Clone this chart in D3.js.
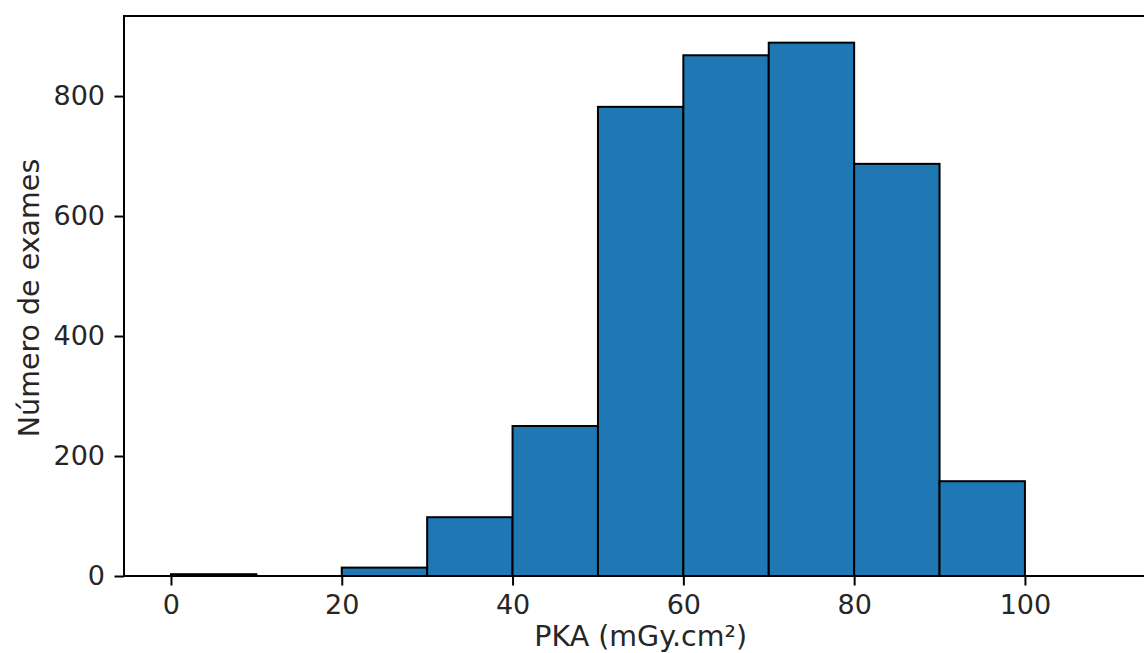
<!DOCTYPE html>
<html>
<head>
<meta charset="utf-8">
<script src="https://cdn.jsdelivr.net/npm/d3@7"></script>
<style>
  html, body { margin: 0; padding: 0; background: #fff; }
  svg { display: block; }
  text { font-family: "DejaVu Sans", sans-serif; fill: #262626; }
</style>
</head>
<body>
<svg id="chart" width="1144" height="653"></svg>
<script>
// Histogram bins (PKA, mGy.cm²) and counts
const binStarts = [0, 10, 20, 30, 40, 50, 60, 70, 80, 90];
const binWidth = 10;
const counts = [3, 0, 14, 98, 250, 782, 868, 889, 687, 158];
const xTicks = [0, 20, 40, 60, 80, 100];
const yTicks = [0, 200, 400, 600, 800];
const xLabel = "PKA (mGy.cm²)";
const yLabel = "Número de exames";

const svg = d3.select("#chart");
const pLeft = 124, pRight = 1157.3, pTop = 16, pBottom = 576;

const x = d3.scaleLinear().domain([-5.5, 115.5]).range([pLeft, pRight]);
const y = d3.scaleLinear().domain([0, d3.max(counts) * 1.05]).range([pBottom, pTop]);

// bars
svg.append("g").selectAll("rect")
  .data(binStarts.map((s, i) => ({ s, c: counts[i] })))
  .join("rect")
  .attr("x", d => x(d.s))
  .attr("width", d => x(d.s + binWidth) - x(d.s))
  .attr("y", d => y(d.c))
  .attr("height", d => y(0) - y(d.c))
  .attr("fill", "#1f77b4")
  .attr("stroke", "#000")
  .attr("stroke-width", 2)
  .attr("stroke-opacity", d => d.c > 0 ? 1 : 0);

// axes
const fs = 27;
const lfs = 28.5;
const xAxis = d3.axisBottom(x).tickValues(xTicks).tickSize(9.5).tickPadding(9.5).tickFormat(d3.format("d"));
const yAxis = d3.axisLeft(y).tickValues(yTicks).tickSize(9.5).tickPadding(9.5).tickFormat(d3.format("d"));

const gx = svg.append("g").attr("transform", `translate(0,${pBottom})`).call(xAxis);
const gy = svg.append("g").attr("transform", `translate(${pLeft},0)`).call(yAxis);
[gx, gy].forEach(g => {
  g.select(".domain").remove();
  g.selectAll(".tick line").attr("stroke", "#000").attr("stroke-width", 2);
  g.selectAll(".tick text").attr("font-size", fs).attr("font-family", "DejaVu Sans").attr("fill", "#262626");
});

// spines
svg.append("rect")
  .attr("x", pLeft).attr("y", pTop)
  .attr("width", pRight - pLeft).attr("height", pBottom - pTop)
  .attr("fill", "none").attr("stroke", "#000").attr("stroke-width", 2);

// labels
svg.append("text")
  .attr("x", (pLeft + pRight) / 2).attr("y", 646)
  .attr("text-anchor", "middle").attr("font-size", lfs)
  .text(xLabel);

svg.append("text")
  .attr("transform", `translate(39,${(pTop + pBottom) / 2 + 2}) rotate(-90)`)
  .attr("text-anchor", "middle").attr("font-size", lfs)
  .text(yLabel);
</script>
</body>
</html>
